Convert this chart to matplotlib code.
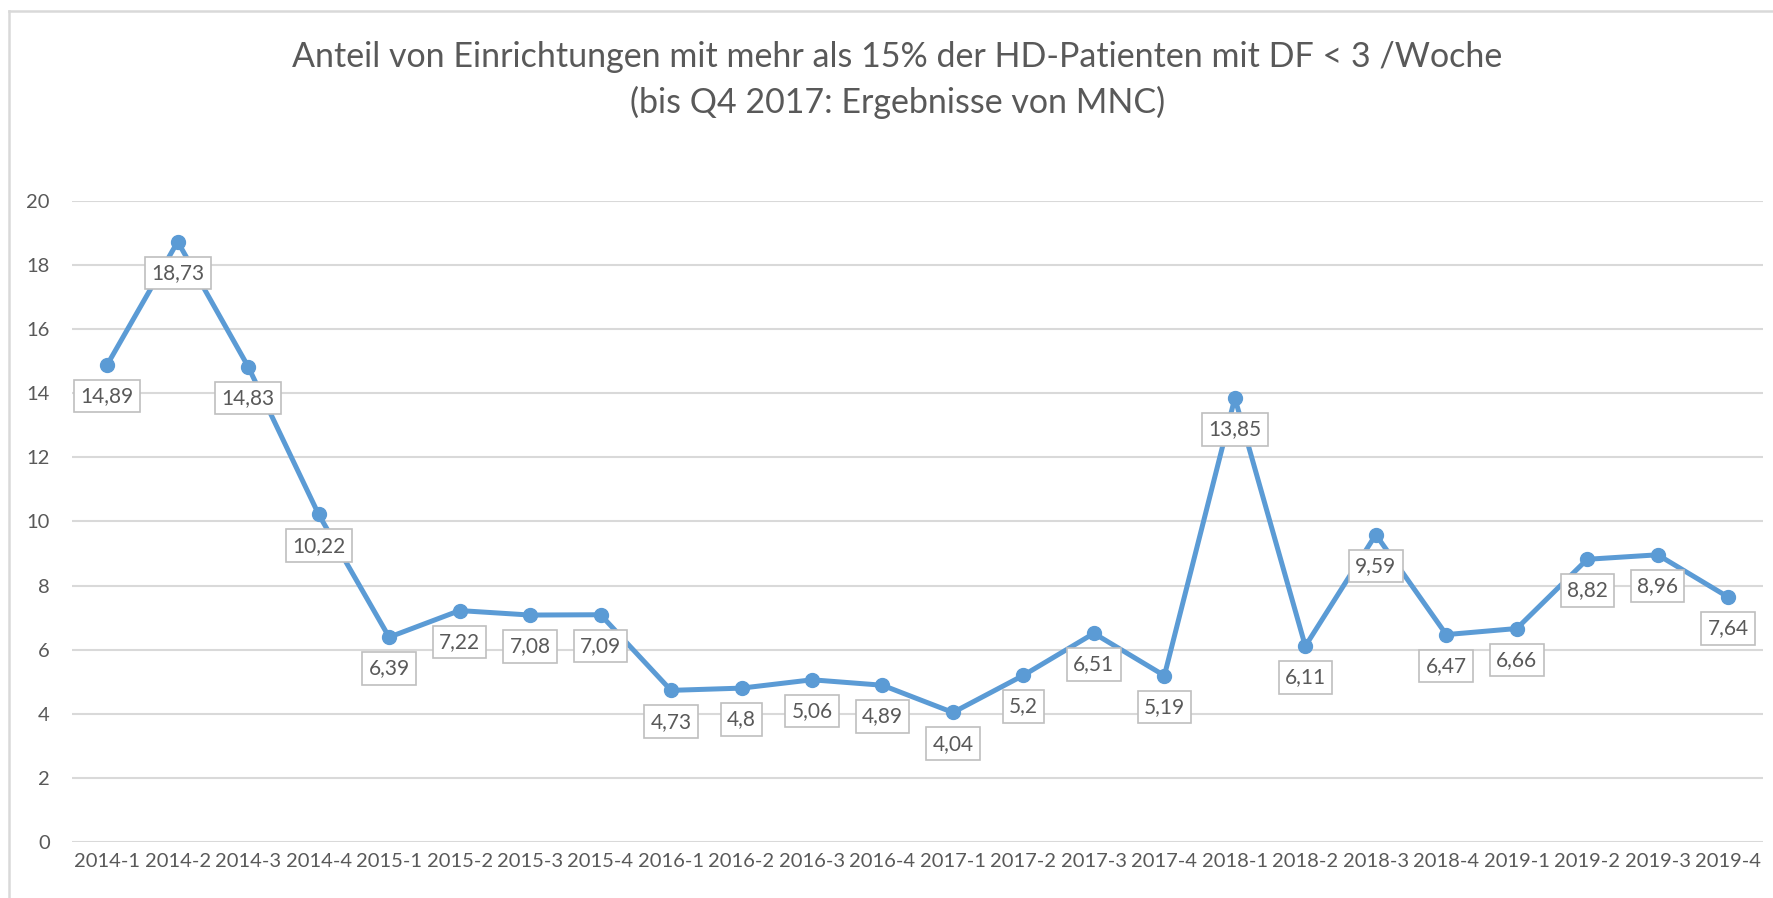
import matplotlib.pyplot as plt
from matplotlib.lines import Line2D

plt.rcParams['font.family'] = ['Lato', 'DejaVu Sans']

# quarters and values (share of facilities, %)
quarters = ['2014-1', '2014-2', '2014-3', '2014-4',
            '2015-1', '2015-2', '2015-3', '2015-4',
            '2016-1', '2016-2', '2016-3', '2016-4',
            '2017-1', '2017-2', '2017-3', '2017-4',
            '2018-1', '2018-2', '2018-3', '2018-4',
            '2019-1', '2019-2', '2019-3', '2019-4']
values = [14.89, 18.73, 14.83, 10.22, 6.39, 7.22, 7.08, 7.09,
          4.73, 4.8, 5.06, 4.89, 4.04, 5.2, 6.51, 5.19,
          13.85, 6.11, 9.59, 6.47, 6.66, 8.82, 8.96, 7.64]
y_ticks = [0, 2, 4, 6, 8, 10, 12, 14, 16, 18, 20]

title = ('Anteil von Einrichtungen mit mehr als 15% der HD-Patienten mit DF < 3 /Woche\n'
         '(bis Q4 2017: Ergebnisse von MNC)')

blue = '#5B9BD5'
text_grey = '#595959'
grid_grey = '#D9D9D9'

fig = plt.figure(figsize=(17.73, 8.98), dpi=100)
ax = fig.add_axes([0.0406, 0.0624, 0.954, 0.7138])

x = list(range(len(quarters)))
ax.plot(x, values, color=blue, linewidth=3.6, marker='o', markersize=10,
        solid_joinstyle='round', zorder=3)

for xi, v in zip(x, values):
    ax.annotate(f'{v:g}'.replace('.', ','), (xi, v), textcoords='offset points',
                xytext=(0, -22.5), ha='center', va='center', fontsize=15,
                color=text_grey, zorder=4,
                bbox=dict(boxstyle='square,pad=0.3', facecolor='white',
                          edgecolor='#BFBFBF', linewidth=1.2))

ax.set_xlim(-0.5, len(quarters) - 0.5)
ax.set_ylim(0, 20)
ax.set_yticks(y_ticks)
ax.set_xticks(x)
ax.set_xticklabels(quarters)
ax.tick_params(axis='both', length=0, labelsize=14.5, colors=text_grey)
ax.tick_params(axis='y', pad=16)
ax.tick_params(axis='x', pad=8)
ax.grid(axis='y', color=grid_grey, linewidth=1.5)
ax.set_axisbelow(True)
for s in ax.spines.values():
    s.set_visible(False)

fig.text(0.506, 0.911, title, ha='center', va='center', fontsize=24.5,
         color=text_grey, linespacing=1.5)

# chart frame (top and left edges visible)
fig.add_artist(Line2D([0.005, 0.005], [0, 0.988], transform=fig.transFigure,
                      color=grid_grey, linewidth=1.8))
fig.add_artist(Line2D([0.005, 1], [0.988, 0.988], transform=fig.transFigure,
                      color=grid_grey, linewidth=1.8))

fig.savefig('out.png', dpi=100)
